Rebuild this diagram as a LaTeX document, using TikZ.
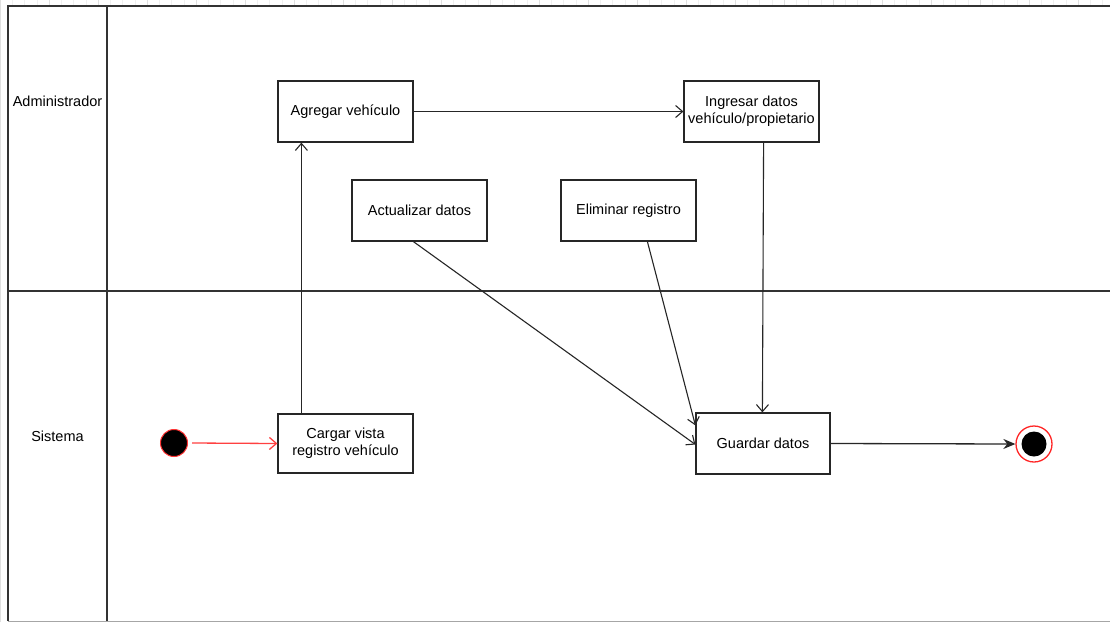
\documentclass[tikz,border=0pt]{standalone}
\usepackage{fontspec}
\setmainfont{Liberation Sans}
\usetikzlibrary{arrows.meta}
\begin{document}
\begin{tikzpicture}[x=1pt,y=-1pt,
  font=\fontsize{14.5}{17}\selectfont,
  act/.style={draw=black!85,line width=1.2pt,fill=white,minimum width=135pt,minimum height=61pt,align=center,inner sep=2pt},
  flow/.style={draw=black!85,line width=1.1pt,-{Straight Barb[length=7pt,width=12pt]}},
  lane/.style={draw=black!80,line width=1.3pt},
  gridminor/.style={draw=black!6,line width=0.5pt},
  gridmajor/.style={draw=black!12,line width=0.6pt}]
\useasboundingbox (0,0) rectangle (1110,622);
% sheet grid behind the pool
\draw[gridminor,step=12.25] (0,0) grid (1110,622);
\draw[gridmajor,step=49] (0,0) grid (1110,622);
\fill[white] (8,6) rectangle (1112,621);
% pool and lanes
\draw[lane] (1112,6) -- (8,6) -- (8,621);
\draw[draw=black!35,line width=1pt] (8,621) -- (1112,621);
\draw[lane] (107,6) -- (107,621);
\draw[lane] (8,291) -- (1112,291);
\node (lanA) at (57.5,101) {Administrador};
\node (lanS) at (57.5,436) {Sistema};
% activities
\node[act] (agregar) at (345.5,111.5) {Agregar vehículo};
\node[act] (ingresar) at (751.5,111.5) {Ingresar datos\\vehículo/propietario};
\node[act] (actualizar) at (419.5,210.5) {Actualizar datos};
\node[act] (eliminar) at (628.5,210.5) {Eliminar registro};
\node[act,minimum height=59pt] (cargar) at (345.5,443.5) {Cargar vista\\registro vehículo};
\node[act,minimum width=134pt] (guardar) at (763,443.5) {Guardar datos};
% initial and final states
\node[circle,fill=black,draw=red!80,line width=1pt,minimum size=27pt,inner sep=0pt] (inicio) at (174,443) {};
\node[circle,draw=red!85,line width=1.3pt,fill=white,minimum size=36pt,inner sep=0pt] (fin) at (1034,444) {};
\node[circle,fill=black,minimum size=25pt,inner sep=0pt] (finin) at (fin) {};
% transitions
\coordinate (s0) at ([xshift=4pt]inicio.east);
\draw[flow,draw=red!75,line width=1.3pt] (s0) -- (cargar.west);
\draw[flow] ([xshift=24pt]cargar.north west) -- ([xshift=24pt]agregar.south west);
\draw[flow] (agregar.east) -- (ingresar.west);
\draw[flow] ([xshift=-56pt]ingresar.south east) -- ([xshift=67pt]guardar.north west);
\draw[flow] ([xshift=62pt]actualizar.south west) -- ([yshift=-1pt]guardar.west);
\draw[flow] ([xshift=87pt]eliminar.south west) -- ([yshift=-13pt]guardar.north west);
\draw[draw=black!85,line width=1.3pt,-{Stealth[length=12pt,width=10pt]}] (guardar.east) -- (fin.west);
\end{tikzpicture}
\end{document}
